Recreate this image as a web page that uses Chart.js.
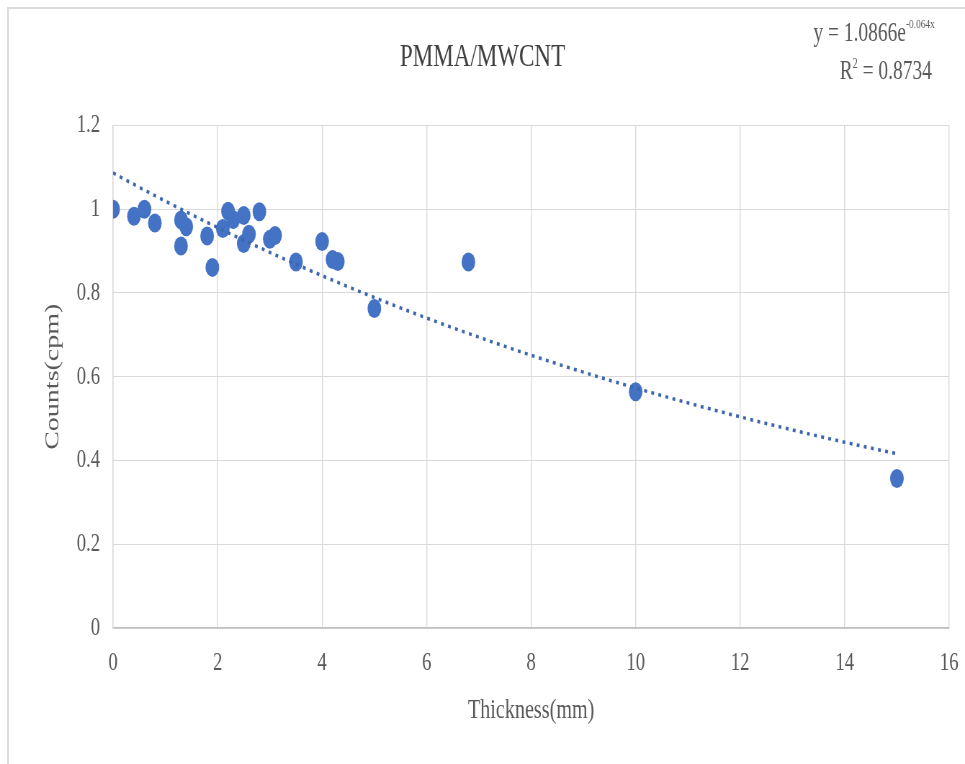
<!DOCTYPE html>
<html>
<head>
<meta charset="utf-8">
<title>PMMA/MWCNT</title>
<script src="https://cdn.jsdelivr.net/npm/chart.js@4.4.1/dist/chart.umd.min.js"></script>
<style>
  html, body { margin: 0; padding: 0; background: #fff; overflow: hidden; width: 965px; height: 764px; }
  #marco { position: absolute; left: 7px; top: 7px; right: 0; bottom: 0; border-top: 2px solid #dcdcdc; border-left: 2px solid #dcdcdc; }
  /* the reference picture is squeezed horizontally, so the chart is drawn wider and scaled back */
  #contenedor { position: absolute; left: 0; top: 0; width: 1340px; height: 764px; transform: scaleX(0.72015); transform-origin: 0 0; }
</style>
</head>
<body>
<div id="marco"></div>
<div id="contenedor"><canvas id="grafico"></canvas></div>
<script>
// datos
const thickness = [0, 0.4, 0.6, 0.8, 1.3, 1.3, 1.4, 1.8, 1.9, 2.1, 2.2, 2.3, 2.5, 2.5, 2.6, 2.8, 3.0, 3.1, 3.5, 4.0, 4.2, 4.3, 5.0, 6.8, 10, 15];
const counts = [1.0, 0.983, 1.0, 0.967, 0.974, 0.912, 0.958, 0.936, 0.861, 0.954, 0.995, 0.975, 0.985, 0.918, 0.94, 0.994, 0.928, 0.937, 0.874, 0.923, 0.88, 0.875, 0.763, 0.874, 0.564, 0.357];
const xTicks = [0, 2, 4, 6, 8, 10, 12, 14, 16];
const yTicks = [0, 0.2, 0.4, 0.6, 0.8, 1, 1.2];

// línea de tendencia exponencial impresa en el gráfico
const trendA = 1.0866;
const trendB = -0.064;
const rSquared = 0.8734;
const trendEnd = 15;

const puntos = thickness.map((x, i) => ({ x: x, y: counts[i] }));
const tendencia = [];
for (let x = 0; x <= trendEnd + 1e-9; x += 0.25) {
  tendencia.push({ x: x, y: trendA * Math.exp(trendB * x) });
}

const serif = '"Liberation Serif", "Times New Roman", serif';
const gris = "#595959";

// texto de la ecuación arriba a la derecha
const ecuacion = {
  id: "ecuacion",
  afterDraw(chart) {
    const ctx = chart.ctx;
    const linea = (partes, derecha, base) => {
      let ancho = 0;
      partes.forEach(p => { ctx.font = p[1] + "px " + serif; ancho += ctx.measureText(p[0]).width; });
      let x = derecha - ancho;
      partes.forEach(p => {
        ctx.font = p[1] + "px " + serif;
        ctx.fillText(p[0], x, base + p[2]);
        x += ctx.measureText(p[0]).width;
      });
    };
    ctx.save();
    ctx.fillStyle = gris;
    ctx.textBaseline = "alphabetic";
    linea([["y = " + trendA + "e", 27, 0], [trendB + "x", 13, -13]], 1298, 41);
    linea([["R", 27, 0], ["2", 14, -11], [" = " + rSquared, 27, 0]], 1294, 79);
    ctx.restore();
  }
};

const ctx = document.getElementById("grafico").getContext("2d");

new Chart(ctx, {
  type: "scatter",
  data: {
    datasets: [
      {
        label: "Expon.",
        data: tendencia,
        showLine: true,
        borderColor: "#3d67ad",
        borderWidth: 3.5,
        borderDash: [4, 6],
        pointRadius: 0,
        fill: false,
        tension: 0
      },
      {
        label: "PMMA/MWCNT",
        data: puntos,
        backgroundColor: "#4472c4",
        borderColor: "#4472c4",
        borderWidth: 0,
        pointRadius: 9.5,
        pointHoverRadius: 9.5
      }
    ]
  },
  options: {
    responsive: true,
    maintainAspectRatio: false,
    animation: false,
    layout: { padding: { left: 0, right: 0, top: 0, bottom: 0 } },
    plugins: {
      legend: { display: false },
      tooltip: { enabled: false },
      title: {
        display: true,
        text: "PMMA/MWCNT",
        color: "#404040",
        font: { family: serif, size: 32, weight: "normal" },
        padding: { top: 38, bottom: 49 }
      }
    },
    scales: {
      x: {
        type: "linear",
        min: 0,
        max: 16,
        afterBuildTicks: axis => { axis.ticks = xTicks.map(v => ({ value: v })); },
        afterFit: axis => { axis.height = 136; },
        grid: { color: "#d9d9d9", lineWidth: 1.4, drawTicks: true, tickLength: 11, tickColor: "rgba(0,0,0,0)" },
        border: { color: "#bfbfbf", width: 1.5 },
        ticks: { color: gris, padding: 9, font: { family: serif, size: 26 } },
        title: {
          display: true,
          text: "Thickness(mm)",
          color: gris,
          font: { family: serif, size: 28 },
          padding: { top: 0, bottom: 37 }
        }
      },
      y: {
        type: "linear",
        min: 0,
        max: 1.2,
        afterBuildTicks: axis => { axis.ticks = yTicks.map(v => ({ value: v })); },
        afterFit: axis => { axis.width = 157; },
        grid: { color: "#d9d9d9", lineWidth: 1, drawTicks: false },
        border: { color: "#d9d9d9", width: 1.4 },
        ticks: {
          color: gris,
          padding: 18,
          font: { family: serif, size: 26 },
          callback: v => String(Number(v.toFixed(1)))
        },
        title: {
          display: true,
          text: "Counts(cpm)",
          color: gris,
          font: { family: serif, size: 28 },
          padding: { top: 57, bottom: 0 }
        }
      }
    }
  },
  plugins: [ecuacion]
});
</script>
</body>
</html>
